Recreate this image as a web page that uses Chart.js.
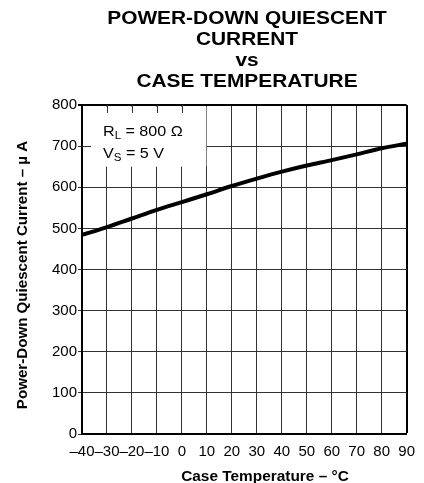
<!DOCTYPE html>
<html>
<head>
<meta charset="utf-8">
<script src="https://cdn.jsdelivr.net/npm/chart.js@4/dist/chart.umd.min.js"></script>
<style>
html, body { margin: 0; padding: 0; background: #fff; }
canvas { display: block; }
</style>
</head>
<body>
<canvas id="grafico" width="424" height="483"></canvas>
<script>
// temperatura do encapsulamento (°C) e corrente em power-down (µA)
const temperaturas = [-40, -30, -20, -10, 0, 10, 20, 30, 40, 50, 60, 70, 80, 90];
const correntes = [484, 503, 524, 545, 564, 583, 603, 621, 638, 653, 666, 680, 695, 706];

const eixoX = { min: -40, max: 90, passo: 10 };
const eixoY = { min: 0, max: 800, passo: 100 };

const titulo = ['POWER-DOWN QUIESCENT', 'CURRENT', 'vs', 'CASE TEMPERATURE'];
const tituloX = 'Case Temperature \u2013 \u00B0C';
const tituloY = 'Power-Down Quiescent Current \u2013 \u00B5 A';

// caixa das condições: x de -40 a 10, y de 800 a 650
const caixa = { x0: -40, x1: 10, y0: 800, y1: 650 };
const condicoes = [
  ['R', 'L', ' = 800 \u03A9'],
  ['V', 'S', ' = 5 V']
];

const FONTE = '"Liberation Sans", Arial, sans-serif';

function texto(ctx, str, x, y, tam, negrito, sx, align) {
  ctx.save();
  ctx.translate(x, y);
  ctx.scale(sx, 1);
  ctx.font = (negrito ? 'bold ' : '') + tam + 'px ' + FONTE;
  ctx.textAlign = align || 'center';
  ctx.textBaseline = 'alphabetic';
  ctx.fillStyle = '#000';
  ctx.fillText(str, 0, 0);
  ctx.restore();
}

const desenho = {
  id: 'desenho',
  beforeDatasetsDraw(chart) {
    const { ctx, scales: { x, y } } = chart;
    const l = x.getPixelForValue(caixa.x0), r = x.getPixelForValue(caixa.x1);
    const t = y.getPixelForValue(caixa.y0), b = y.getPixelForValue(caixa.y1);
    ctx.save();
    ctx.fillStyle = '#fff';
    ctx.fillRect(l + 1.5, t + 1.5, r - l - 2, b - t - 1.5);

    // pequenos traços das divisões por dentro da caixa
    ctx.strokeStyle = '#333';
    ctx.lineWidth = 1;
    ctx.beginPath();
    for (let v = caixa.x0 + eixoX.passo; v < caixa.x1; v += eixoX.passo) {
      const px = Math.round(x.getPixelForValue(v)) + 0.5;
      ctx.moveTo(px, t);
      ctx.lineTo(px, t + 8);
    }
    for (let v = caixa.y1 + 50; v < caixa.y0; v += eixoY.passo) {
      const py = Math.round(y.getPixelForValue(v)) + 0.5;
      ctx.moveTo(l, py);
      ctx.lineTo(l + 9, py);
    }
    ctx.stroke();

    // textos das condições, com subscrito
    condicoes.forEach((c, i) => {
      const bx = 103, by = 136 + i * 22;
      ctx.save();
      ctx.translate(bx, by);
      ctx.scale(1.15, 1);
      ctx.fillStyle = '#000';
      ctx.textBaseline = 'alphabetic';
      ctx.font = '14px ' + FONTE;
      ctx.fillText(c[0], 0, 0);
      let w = ctx.measureText(c[0]).width;
      ctx.font = '10px ' + FONTE;
      ctx.fillText(c[1], w, 3);
      w += ctx.measureText(c[1]).width;
      ctx.font = '14px ' + FONTE;
      ctx.fillText(c[2], w, 0);
      ctx.restore();
    });
    ctx.restore();
  },
  afterDraw(chart) {
    const { ctx } = chart;
    titulo.forEach((linha, i) => texto(ctx, linha, 247, 24 + i * 21, 18, true, 1.16));
    texto(ctx, tituloX, 265, 481, 14, true, 1.1);

    ctx.save();
    ctx.translate(27, 275);
    ctx.rotate(-Math.PI / 2);
    texto(ctx, tituloY, 0, 0, 14, true, 1.08);
    ctx.restore();
  }
};

const grade = (limite) => ({
  color: (c) => c.tick && c.tick.value === limite ? '#000' : '#333',
  lineWidth: (c) => c.tick && c.tick.value === limite ? 2 : 1
});

new Chart(document.getElementById('grafico'), {
  type: 'line',
  data: {
    datasets: [{
      data: temperaturas.map((t, i) => ({ x: t, y: correntes[i] })),
      borderColor: '#000',
      borderWidth: 4,
      pointRadius: 0,
      cubicInterpolationMode: 'monotone',
      fill: false
    }]
  },
  options: {
    responsive: false,
    animation: false,
    devicePixelRatio: 1,
    layout: { padding: { top: 105, right: 14, left: 0, bottom: 0 } },
    plugins: { legend: { display: false }, tooltip: { enabled: false }, title: { display: false } },
    scales: {
      x: {
        type: 'linear',
        min: eixoX.min,
        max: eixoX.max,
        afterFit: (s) => { s.height = 49; },
        grid: Object.assign({ drawTicks: false }, grade(eixoX.max)),
        border: { color: '#000', width: 2 },
        ticks: {
          stepSize: eixoX.passo,
          autoSkip: false,
          maxRotation: 0,
          minRotation: 0,
          padding: 9,
          color: '#000',
          font: { family: FONTE, size: 15 },
          callback: (v) => String(v).replace('-', '\u2013')
        }
      },
      y: {
        min: eixoY.min,
        max: eixoY.max,
        afterFit: (s) => { s.width = 82; },
        grid: Object.assign({ drawTicks: true, tickLength: 4 }, grade(eixoY.max)),
        border: { color: '#000', width: 2 },
        ticks: {
          stepSize: eixoY.passo,
          padding: 1,
          color: '#000',
          font: { family: FONTE, size: 15 }
        }
      }
    }
  },
  plugins: [desenho]
});
</script>
</body>
</html>
